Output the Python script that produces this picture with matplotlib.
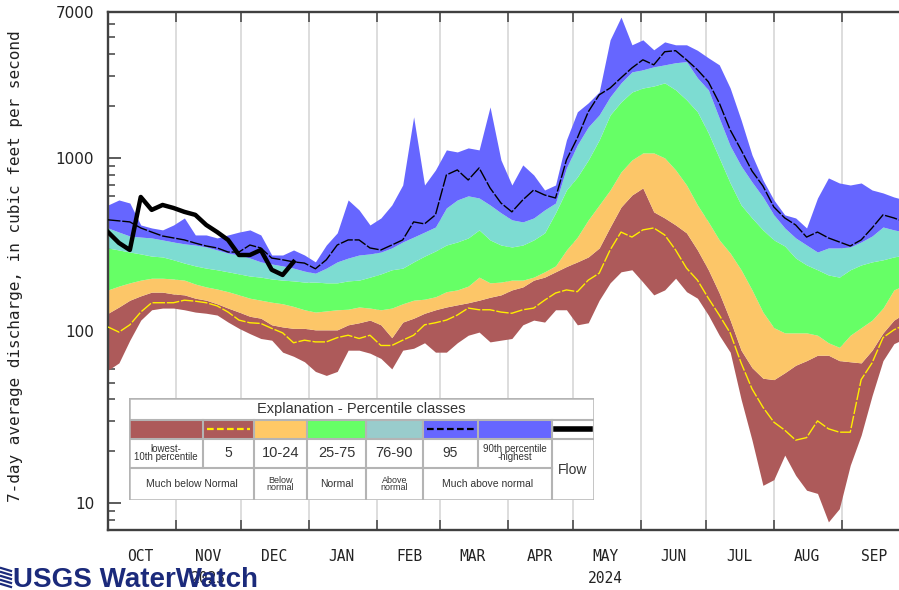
import numpy as np
import matplotlib
matplotlib.use('Agg')
import matplotlib.pyplot as plt
import matplotlib.dates as mdates
from matplotlib.ticker import FixedLocator, NullFormatter, LogLocator, FuncFormatter
from matplotlib.patches import Rectangle
from matplotlib.lines import Line2D

# water year 2024, one sample every 5 days starting 2023-10-01
start = np.datetime64('2023-10-01')
days = list(range(0, 366, 5))

# 7-day average discharge percentiles (cfs)
q_max = [534, 571, 548, 409, 393, 383, 409, 449, 358, 358, 344, 358, 372, 383, 358, 274,
         274, 293, 274, 250, 313, 368, 571, 500, 409, 449, 534, 697, 1730, 697, 852, 1113,
         1083, 1143, 1113, 1975, 973, 697, 911, 797, 652, 697, 1272, 1850, 2085, 2410, 4830, 6540,
         4520, 4830, 4230, 4700, 4520, 4520, 4200, 3800, 3460, 2540, 1660, 1041, 745, 571,
         468, 449, 393, 586, 766, 716, 697, 716, 652, 627, 594, 571]
q95 = [438, 432, 426, 393, 372, 353, 344, 335, 321, 309, 301, 285, 285, 313, 301, 263,
       257, 250, 246, 228, 257, 313, 335, 335, 301, 293, 313, 335, 426, 415, 468, 797,
       852, 745, 875, 670, 548, 487, 571, 652, 610, 586, 973, 1306, 1850, 2320, 2540, 2910,
       3320, 3700, 3460, 4120, 4180, 3700, 3240, 2760, 2080, 1453, 1113, 840, 688, 520,
       449, 409, 348, 372, 344, 326, 309, 335, 393, 468, 449, 426]
q90 = [393, 372, 353, 348, 344, 335, 326, 318, 313, 305, 293, 281, 274, 263, 250, 243,
       237, 230, 221, 215, 230, 250, 263, 274, 278, 285, 301, 326, 348, 372, 398, 513,
       571, 603, 586, 534, 481, 438, 426, 449, 500, 548, 875, 1190, 1513, 1775, 2260, 2720,
       3150, 3240, 3370, 3460, 3560, 3610, 2910, 2480, 1700, 1175, 899, 725, 594, 468,
       393, 344, 313, 285, 301, 301, 305, 326, 353, 398, 383, 372]
q75 = [301, 293, 285, 278, 270, 267, 257, 246, 237, 230, 225, 219, 213, 207, 204, 199,
       196, 194, 191, 191, 189, 189, 194, 196, 204, 213, 225, 230, 250, 270, 289, 313,
       326, 344, 383, 335, 313, 305, 313, 335, 368, 481, 652, 776, 973, 1272, 1775, 2110,
       2410, 2540, 2610, 2720, 2480, 2170, 1850, 1395, 1000, 716, 534, 449, 383, 335,
       309, 263, 240, 225, 210, 204, 225, 240, 250, 257, 267, 274]
q25 = [172, 181, 189, 196, 201, 201, 199, 196, 186, 179, 174, 168, 161, 154, 150, 146,
       143, 138, 132, 128, 130, 132, 133, 137, 135, 132, 135, 143, 150, 152, 157, 168,
       172, 181, 204, 189, 191, 196, 196, 204, 219, 237, 293, 348, 438, 534, 652, 830,
       973, 1069, 1069, 1000, 852, 697, 534, 426, 335, 281, 225, 172, 128, 104,
       97, 97, 97, 94, 85, 80, 94, 104, 115, 135, 172, 184]
q10 = [126, 137, 150, 159, 167, 167, 163, 161, 154, 150, 143, 135, 128, 121, 118, 108,
       105, 103, 103, 101, 101, 101, 108, 111, 115, 108, 91, 112, 118, 126, 132, 137,
       141, 145, 150, 156, 161, 172, 179, 196, 204, 219, 235, 250, 267, 301, 398, 520,
       610, 670, 487, 449, 409, 368, 293, 225, 165, 115, 77, 61, 53, 52,
       57, 63, 67, 72, 72, 67, 66, 65, 77, 97, 115, 126]
q05 = [105, 98, 108, 128, 145, 145, 145, 150, 148, 145, 139, 128, 115, 111, 110, 103,
       97, 85, 88, 86, 86, 91, 94, 90, 94, 82, 82, 88, 94, 108, 111, 115,
       123, 135, 132, 132, 128, 126, 132, 135, 150, 165, 172, 168, 196, 215, 293, 372,
       348, 383, 393, 358, 293, 230, 196, 154, 123, 97, 65, 46, 36, 29.5,
       26.5, 23.2, 24, 30, 27, 25.8, 25.8, 52, 65, 91, 101, 108]
q_min = [59, 65, 88, 115, 132, 135, 135, 132, 128, 126, 123, 112, 103, 96, 90, 88,
         75, 71, 66, 58, 55, 58, 77, 77, 74, 69, 60, 77, 79, 85, 75, 75,
         85, 94, 98, 86, 88, 90, 108, 115, 112, 132, 132, 108, 111, 150, 189, 219,
         225, 191, 161, 172, 201, 168, 154, 123, 94, 75, 40, 23.2, 12.7, 13.7,
         19.0, 14.5, 11.9, 11.4, 7.8, 9.3, 16.6, 24.8, 42, 67, 84, 90]

# observed 7-day flow so far
flow_days = list(range(0, 90, 5))
flow = [372, 322, 293, 594, 500, 534, 513, 487, 468, 409, 372, 335, 274, 274, 293, 225, 210, 250]

dates = start + np.array(days).astype('timedelta64[D]')
flow_dates = start + np.array(flow_days).astype('timedelta64[D]')

c_brown = '#ad5a5a'
c_orange = '#fcc668'
c_green = '#66ff66'
c_teal = '#7ddcd2'
c_blue = '#6666ff'
c_yellow = '#ffee00'
axis_col = '#404040'

fig = plt.figure(figsize=(8.99, 5.90), dpi=100)
ax = fig.add_axes([108/899, 60/590, 799/899, 518/590])

ax.fill_between(dates, q_min, q10, color=c_brown, lw=0, zorder=2)
ax.fill_between(dates, q10, q25, color=c_orange, lw=0, zorder=2)
ax.fill_between(dates, q25, q75, color=c_green, lw=0, zorder=2)
ax.fill_between(dates, q75, q90, color=c_teal, lw=0, zorder=2)
ax.fill_between(dates, q90, q_max, color=c_blue, lw=0, zorder=2)
ax.plot(dates, q05, color=c_yellow, lw=1.0, ls=(0, (9, 1.3)), zorder=3)
ax.plot(dates, q95, color='black', lw=1.0, ls=(0, (9, 1.3)), zorder=3)
ax.plot(flow_dates, flow, color='black', lw=3.2, solid_joinstyle='round', zorder=4)

ax.set_yscale('log')
ax.set_ylim(7, 7000)
ax.set_xlim(np.datetime64('2023-10-01'), np.datetime64('2024-10-01'))

ax.yaxis.set_major_locator(FixedLocator([10, 100, 1000, 7000]))
ax.yaxis.set_major_formatter(FuncFormatter(lambda v, p: '%d' % round(v)))
ax.yaxis.set_minor_locator(LogLocator(base=10, subs=range(2, 10)))
ax.yaxis.set_minor_formatter(NullFormatter())
ax.tick_params(axis='y', which='major', direction='in', length=9, width=1.2, color=axis_col,
               labelsize=11, labelcolor='#222222', pad=10)
ax.tick_params(axis='y', which='minor', direction='in', length=5, width=1.1, color=axis_col)

ax.xaxis.set_major_locator(mdates.MonthLocator())
ax.xaxis.set_major_formatter(NullFormatter())
ax.xaxis.set_minor_locator(mdates.MonthLocator(bymonthday=16))
ax.xaxis.set_minor_formatter(FuncFormatter(lambda v, p: mdates.num2date(v).strftime('%b').upper()))
ax.tick_params(axis='x', which='major', direction='in', length=7, width=1.1, color=axis_col,
               top=True, bottom=True)
ax.tick_params(axis='x', which='minor', length=0, pad=14, labelsize=10.5, labelcolor='#222222')
for lab in ax.get_xticklabels(minor=True):
    lab.set_family('DejaVu Sans Mono')

ax.xaxis.grid(True, which='major', color='#dadada', lw=1.3)
ax.set_axisbelow(True)
for side in ['left', 'top', 'bottom']:
    ax.spines[side].set_color(axis_col)
    ax.spines[side].set_linewidth(1.7)
ax.spines['right'].set_visible(False)

xt = ax.get_xaxis_transform()
ax.text(np.datetime64('2023-11-16'), -0.093, '2023', transform=xt, ha='center', va='center',
        fontsize=10.5, family='DejaVu Sans Mono', color='#222222', zorder=6)
ax.text(np.datetime64('2024-05-16'), -0.093, '2024', transform=xt, ha='center', va='center',
        fontsize=10.5, family='DejaVu Sans Mono', color='#222222')

fig.text(16/899, 1 - 266/590, '7-day average discharge, in cubic feet per second', rotation=90,
         ha='center', va='center', fontsize=11.5, family='DejaVu Sans Mono', color='#222222')

# explanation table, laid out in pixel units
col_edges = [129, 203, 254, 307, 366, 423, 478, 552, 594]
row_edges = [398, 420, 439, 468, 500]
swatch_colors = [c_brown, c_brown, '#ffc966', c_green, '#99cccc', c_blue, c_blue, 'white']
class_labels = ['lowest-\n10th percentile', '5', '10-24', '25-75', '76-90', '95',
                '90th percentile\n-highest']
class_sizes = [7, 10, 10.5, 10.5, 10.5, 10, 7]
group_labels = [('Much below Normal', 0, 2, 7.5), ('Below\nnormal', 2, 3, 6.5),
                ('Normal', 3, 4, 7.5), ('Above\nnormal', 4, 5, 6.5),
                ('Much above normal', 5, 7, 7.5)]

lg = fig.add_axes([129/899, 1 - 500/590, 465/899, 102/590], zorder=10)
lg.set_xlim(129, 594)
lg.set_ylim(500, 398)
lg.axis('off')
grey = '#b4b4b4'
lg.add_patch(Rectangle((129, 398), 465, 102, facecolor='white', edgecolor='none'))
for i, c in enumerate(swatch_colors):
    x0, x1 = col_edges[i], col_edges[i + 1]
    lg.add_patch(Rectangle((x0, row_edges[1]), x1 - x0, row_edges[2] - row_edges[1],
                           facecolor=c, edgecolor='none'))
    if i < len(class_labels):
        lg.text((x0 + x1) / 2, 453, class_labels[i], ha='center', va='center',
                fontsize=class_sizes[i], family='Liberation Sans', color='#333333', linespacing=0.85)
mid = (row_edges[1] + row_edges[2]) / 2
lg.plot([col_edges[1] + 4, col_edges[2] - 4], [mid, mid], color=c_yellow, lw=1.6, ls=(0, (3, 1.5)))
lg.plot([col_edges[5] + 4, col_edges[6] - 4], [mid, mid], color='black', lw=1.6, ls=(0, (3, 1.5)))
lg.plot([col_edges[7] + 4, col_edges[8] - 4], [mid, mid], color='black', lw=4)
for text, a, b, fs in group_labels:
    lg.text((col_edges[a] + col_edges[b]) / 2, 484, text, ha='center', va='center', fontsize=fs,
            family='Liberation Sans', color='#333333', linespacing=0.85)
lg.text((col_edges[7] + col_edges[8]) / 2, 470, 'Flow', ha='center', va='center', fontsize=10,
        family='Liberation Sans', color='#333333')
lg.text(361, 409, 'Explanation - Percentile classes', ha='center', va='center', fontsize=10.5,
        family='Liberation Sans', color='#333333')

# table rules
for y in row_edges[1:4]:
    right = col_edges[7] if y == row_edges[3] else col_edges[8]
    lg.plot([129, right], [y, y], color=grey, lw=1.5)
for x in col_edges[1:-1]:
    lg.plot([x, x], [row_edges[1], row_edges[3]], color=grey, lw=1.5)
    if x not in (col_edges[1], col_edges[6]):
        lg.plot([x, x], [row_edges[3], row_edges[4]], color=grey, lw=1.5)
lg.add_patch(Rectangle((129, 398), 465, 102, facecolor='none', edgecolor=grey, lw=1.8))

# logo
logo_col = '#1b2a7b'
fig.text(13/899, 3/590, 'USGS WaterWatch', fontsize=20, fontweight='bold', color=logo_col,
         family='Liberation Sans', ha='left', va='baseline')
for k in range(5):
    y0 = 1 - (568 + k * 4) / 590
    fig.add_artist(Line2D([1/899, 11/899], [y0, y0 - 3/590], color=logo_col, lw=1.6))

fig.savefig('out.png', dpi=100)
